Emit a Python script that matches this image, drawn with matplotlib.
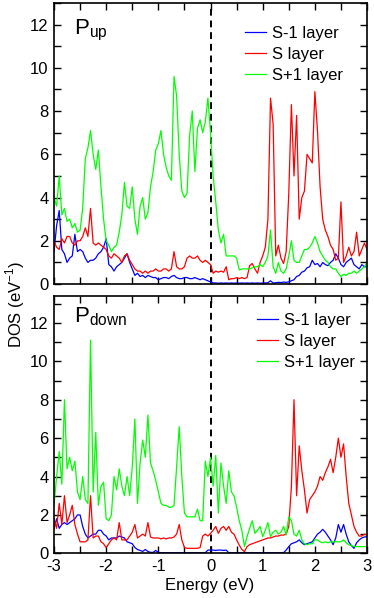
import numpy as np
import matplotlib.pyplot as plt

plt.rcParams['font.family'] = ['Liberation Sans', 'DejaVu Sans']
plt.rcParams['mathtext.fontset'] = 'custom'
plt.rcParams['mathtext.rm'] = 'Liberation Sans'

# energy grid (eV), step 0.05 from -3 to 3
energy = np.round(np.linspace(-3.0, 3.0, 121), 2)

# ---- P up ----
up_sm1 = [1.5, 2.7, 3.4, 1.6, 1.4, 1.0, 1.2, 1.3, 2.3, 1.5,
          1.6, 1.5, 1.2, 1.0, 1.1, 1.1, 1.2, 1.4, 1.5, 1.7,
          2.1, 0.9, 0.8, 0.6, 0.8, 0.9, 1.0, 1.2, 1.4, 1.0,
          0.7, 0.4, 0.5, 0.35, 0.4, 0.3, 0.4, 0.35, 0.3, 0.3,
          0.2, 0.25, 0.3, 0.3, 0.25, 0.35, 0.4, 0.3, 0.25, 0.25,
          0.3, 0.3, 0.25, 0.25, 0.3, 0.25, 0.2, 0.25, 0.2, 0.15,
          0.1, 0.05, 0.05, 0.04, 0.05, 0.04, 0.05, 0.04, 0.05, 0.04,
          0.05, 0.04, 0.05, 0.04, 0.05, 0.04, 0.05, 0.04, 0.05, 0.04,
          0.05, 0.05, 0.06, 0.15, 0.05, 0.06, 0.08, 0.07, 0.09, 0.08,
          0.1, 0.15, 0.2, 0.35, 0.4, 0.55, 0.6, 0.75, 0.8, 1.1,
          0.9, 0.95, 0.8, 1.0, 0.9, 0.85, 1.0, 1.1, 1.4, 1.2,
          0.9, 0.8, 1.0, 1.1, 1.2, 0.9, 0.8, 0.7, 0.9, 0.8,
          0.8]
up_s = [2.0, 1.7, 1.6, 2.1, 1.9, 2.2, 2.2, 1.9, 1.8, 2.0,
        2.0, 2.2, 2.6, 2.2, 3.5, 1.9, 1.8, 1.9, 1.8, 1.7,
        1.6, 1.3, 1.2, 1.4, 1.3, 1.2, 1.0, 1.3, 1.4, 1.1,
        0.9, 0.7, 0.6, 0.6, 0.5, 0.6, 0.5, 0.6, 0.6, 0.7,
        0.6, 0.6, 0.7, 0.7, 0.6, 0.7, 1.5, 0.8, 0.7, 0.7,
        0.8, 1.2, 1.3, 1.2, 1.2, 1.3, 1.1, 1.0, 1.1, 1.0,
        0.9, 0.5, 0.6, 0.55, 0.6, 0.55, 0.8, 0.2, 0.25, 0.25,
        0.3, 0.25, 0.3, 0.25, 0.3, 0.85, 0.95, 0.7, 0.5, 1.0,
        1.3, 1.7, 3.0, 8.6, 7.4, 1.3, 1.8, 1.2, 0.95, 1.5,
        4.2, 8.3, 5.0, 7.8, 3.0, 4.0, 4.3, 6.0, 5.8, 5.6,
        8.9, 7.1, 4.5, 3.0, 2.5, 2.2, 1.8, 1.6, 1.1, 1.2,
        3.8, 1.0, 1.3, 1.7, 1.3, 1.5, 2.4, 1.3, 1.6, 1.9,
        1.6]
up_sp1 = [4.0, 3.6, 5.0, 3.2, 3.5, 2.9, 3.0, 2.6, 2.8, 2.4,
          2.5, 3.5, 5.8, 6.3, 7.1, 6.0, 5.3, 6.2, 4.5, 3.0,
          2.0, 1.8, 1.5, 1.7, 1.8, 2.4, 3.2, 4.7, 3.6, 3.5,
          4.5, 3.0, 2.3, 3.6, 4.0, 3.0, 3.3, 4.5, 5.2, 6.2,
          6.5, 7.1, 6.0, 5.4, 5.0, 4.8, 9.6, 8.7, 6.0, 4.3,
          4.0, 4.2, 6.9, 8.0, 5.2, 7.2, 7.6, 7.0, 7.5, 8.6,
          7.0, 5.0, 3.8, 2.5, 1.9, 2.3, 1.3, 1.3, 1.3, 1.3,
          1.2, 0.65, 0.7, 0.7, 0.7, 0.7, 0.75, 0.8, 0.8, 0.9,
          0.8, 1.0, 1.3, 2.5, 0.8, 0.5, 1.0, 0.6, 0.5, 0.7,
          1.3, 2.0, 1.1, 1.0, 1.0, 1.3, 1.6, 1.6, 1.7, 1.9,
          2.2, 1.9, 1.5, 1.3, 1.1, 1.0, 0.8, 0.7, 0.7, 0.5,
          0.35, 0.45, 0.4, 0.5, 0.5, 0.6, 0.5, 0.6, 0.7, 0.8,
          1.0]

# ---- P down ----
dn_sm1 = [1.3, 1.8, 1.3, 1.5, 1.6, 1.5, 1.6, 1.7, 1.8, 2.0,
          2.0, 1.4, 1.0, 0.8, 0.9, 1.0, 1.0, 1.2, 1.2, 1.0,
          0.9, 0.7, 0.8, 0.8, 0.8, 0.9, 0.85, 0.8, 0.6, 0.55,
          0.5, 0.3, 0.2, 0.15, 0.1, 0.2, 0.1, 0.05, 0.05, 0.15,
          0.05, 0.03, 0.03, 0.03, 0.03, 0.03, 0.03, 0.03, 0.03, 0.03,
          0.03, 0.03, 0.03, 0.03, 0.03, 0.03, 0.03, 0.03, 0.03, 0.17,
          0.17, 0.17, 0.15, 0.17, 0.17, 0.15, 0.17, 0.03, 0.03, 0.03,
          0.03, 0.03, 0.03, 0.03, 0.03, 0.03, 0.03, 0.03, 0.03, 0.03,
          0.03, 0.03, 0.03, 0.03, 0.03, 0.03, 0.03, 0.03, 0.03, 0.17,
          0.35, 0.5, 0.55, 0.6, 0.7, 0.55, 0.45, 0.5, 0.55, 0.6,
          0.8, 1.0, 1.1, 1.25, 1.1, 0.9, 0.7, 0.45, 0.8, 1.5,
          1.1, 1.5, 1.0, 0.6, 0.4, 0.26, 0.55, 0.7, 0.8, 0.85,
          0.87]
dn_s = [1.8, 1.3, 2.6, 1.5, 3.0, 1.6, 2.0, 2.5, 1.5, 1.0,
        0.6, 0.6, 0.6, 0.7, 3.0, 0.8, 0.9, 0.9, 0.6, 0.5,
        0.3, 0.5, 0.7, 0.8, 0.7, 1.6, 0.7, 0.7, 0.7, 0.9,
        1.1, 1.5, 0.8, 0.9, 1.0, 0.9, 1.6, 0.85, 0.8, 0.8,
        0.8, 0.75, 0.8, 0.75, 0.8, 0.8, 0.85, 1.0, 1.5, 0.7,
        0.3, 0.26, 0.26, 0.26, 0.26, 0.26, 0.3, 0.9, 1.0, 0.9,
        1.04, 1.2, 1.4, 1.04, 1.3, 1.4, 1.2, 1.4, 1.1, 1.0,
        0.7, 0.43, 0.2, 0.09, 0.35, 0.45, 0.5, 0.55, 0.6, 0.65,
        0.7, 0.75, 0.8, 0.8, 0.85, 0.9, 0.9, 0.95, 0.95, 1.0,
        1.4, 3.5, 8.0, 3.0, 5.6, 4.3, 3.3, 2.1, 2.8, 3.0,
        3.2, 3.5, 4.0, 3.8, 4.2, 4.5, 4.9, 4.2, 5.0, 6.0,
        5.0, 5.7, 4.0, 2.6, 2.0, 1.4, 1.1, 0.9, 0.9, 1.0,
        0.96]
dn_sp1 = [2.5, 4.0, 5.3, 3.6, 8.0, 4.4, 5.0, 4.3, 4.8, 3.2,
          2.8, 4.0, 2.8, 2.6, 11.1, 3.2, 6.3, 2.5, 3.5, 3.7,
          1.8, 1.7, 2.0, 4.0, 3.3, 4.4, 3.5, 3.0, 4.0, 3.0,
          4.5, 7.0, 2.6, 4.7, 5.9, 5.0, 7.2, 4.7, 4.3, 3.8,
          3.2, 2.6, 2.5, 2.5, 2.4, 2.4, 2.5, 4.5, 6.6, 4.0,
          2.1, 1.9, 1.9, 1.9, 1.9, 2.3, 1.7, 1.7, 4.8, 4.0,
          5.0, 3.5, 5.1, 2.1, 4.7, 3.5, 2.6, 4.3, 3.2, 3.0,
          2.4, 1.7, 1.2, 0.35, 0.87, 1.3, 1.7, 1.04, 1.2, 1.4,
          0.87, 1.2, 1.6, 0.87, 1.1, 1.2, 1.0, 1.1, 1.4, 0.96,
          1.9, 1.7, 1.0, 0.9, 1.2, 0.7, 0.5, 0.45, 0.5, 0.5,
          0.7, 0.7, 0.6, 0.55, 0.6, 0.55, 0.6, 0.6, 0.6, 0.6,
          0.6, 0.7, 0.55, 0.45, 0.4, 0.35, 0.35, 0.35, 0.35, 0.35,
          0.35]

labels = ['S-1 layer', 'S layer', 'S+1 layer']
colors = ['#0000ff', '#ff0000', '#00ff00']

fig = plt.figure(figsize=(3.74, 5.98), dpi=100)
ax_up = fig.add_axes([0.1444, 0.525, 0.837, 0.470])
ax_dn = fig.add_axes([0.1444, 0.0747, 0.837, 0.4303])

panels = [
    (ax_up, [up_sm1, up_s, up_sp1], r'P$_{\mathrm{up}}$', 13.0, 0.889, (0.922, 0.917)),
    (ax_dn, [dn_sm1, dn_s, dn_sp1], r'P$_{\mathrm{down}}$', 13.4, 0.898, (0.96, 0.933)),
]

for ax, series, title, ytop, ty, lpos in panels:
    for vals, lab, col in zip(series, labels, colors):
        ax.plot(energy, vals, color=col, lw=0.9, label=lab)
    ax.axvline(0, color='black', lw=1.4, ls=(0, (3.5, 2.5)), zorder=0)
    ax.set_xlim(-3, 3)
    ax.set_ylim(0, ytop)
    ax.set_xticks(np.arange(-3, 3.01, 0.5))
    ax.set_yticks(np.arange(0, 13.1, 1))
    ax.set_yticklabels([str(v) if v % 2 == 0 else '' for v in range(0, 14)])
    ax.tick_params(direction='in', top=True, right=True, length=5,
                   width=1.0, labelsize=12, pad=4)
    for sp in ax.spines.values():
        sp.set_linewidth(1.2)
    ax.text(0.064, ty, title, transform=ax.transAxes, fontsize=16,
            va='baseline', ha='left')
    ax.legend(loc='upper right', bbox_to_anchor=lpos, frameon=False,
              fontsize=12, handlelength=1.25, handletextpad=0.35,
              labelspacing=0.36, borderpad=0, borderaxespad=0)

ax_up.set_xticklabels([])
ax_dn.set_xticklabels([str(int(v)) if v == int(v) else ''
                       for v in np.arange(-3, 3.01, 0.5)])

fig.text(0.56, 0.008, 'Energy (eV)', ha='center', va='bottom', fontsize=12)
fig.text(0.008, 0.49, r'DOS (eV$^{-1}$)', rotation=90, ha='left',
         va='center', fontsize=12)

fig.savefig('out.png', dpi=100)
